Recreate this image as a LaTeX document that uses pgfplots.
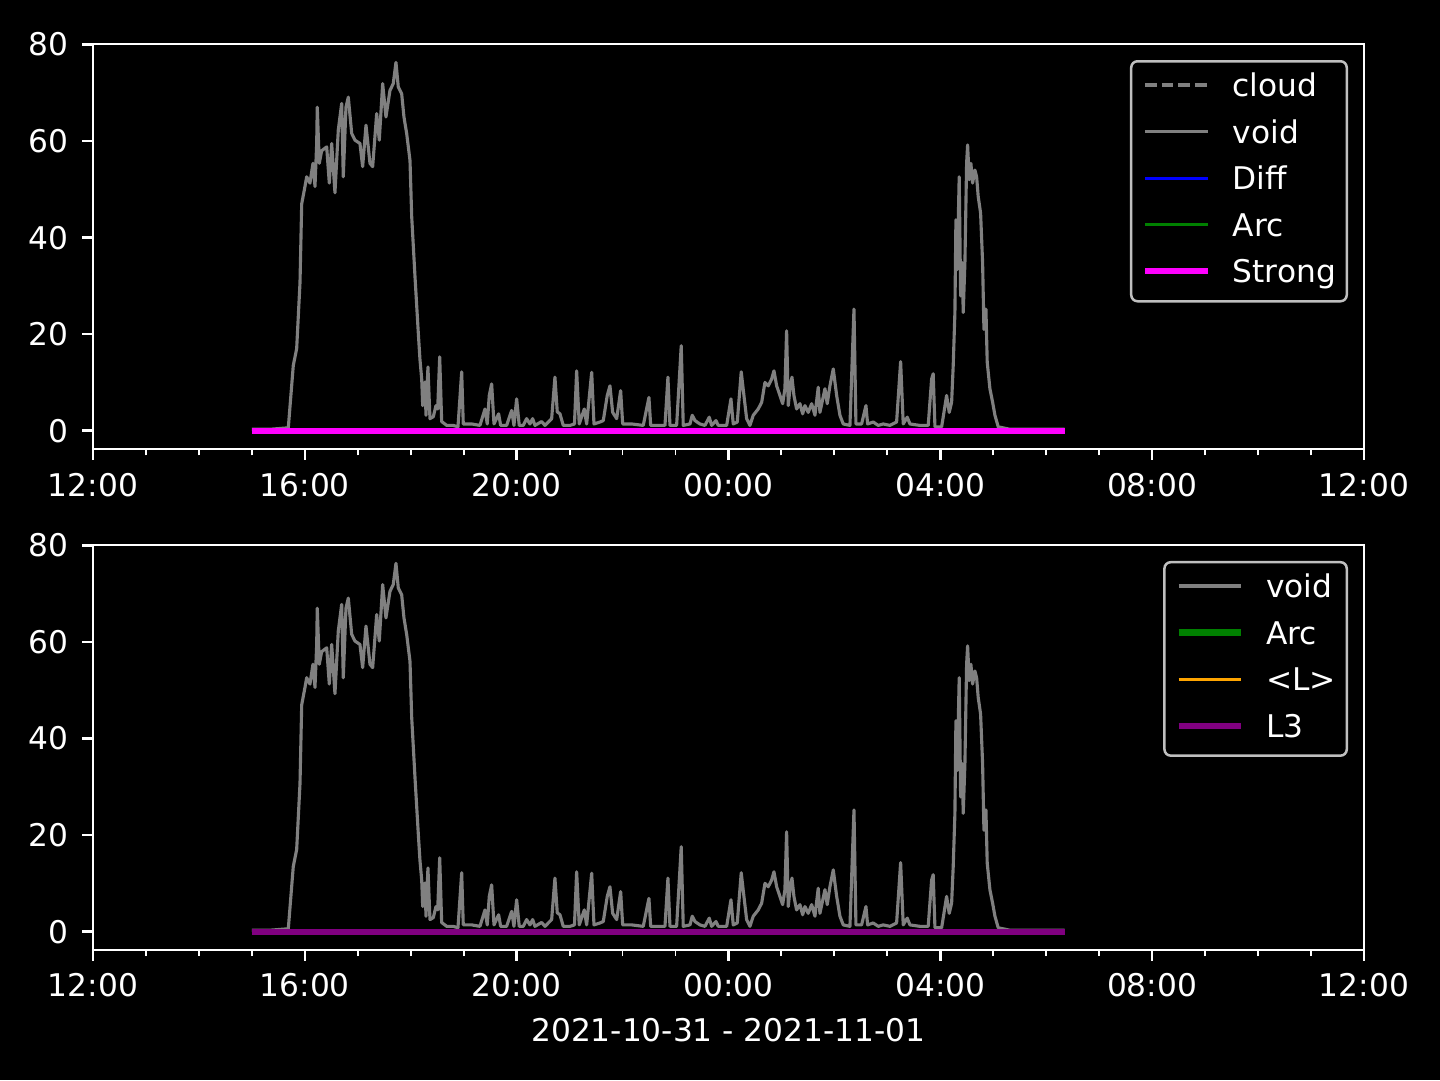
\documentclass[border=0pt]{standalone}
\usepackage{pgfplots}
\pgfplotsset{compat=1.18}
\usepackage{pgfplotstable}
\usepackage{fontspec}
\setmainfont{DejaVu Sans}
\definecolor{mgray}{HTML}{808080}
\definecolor{mgreen}{HTML}{008000}
\definecolor{mblue}{HTML}{0000FF}
\definecolor{mmagenta}{HTML}{FF00FF}
\definecolor{morange}{HTML}{FFA500}
\definecolor{mpurple}{HTML}{800080}
\definecolor{legedge}{gray}{0.75}

\pgfplotstableread{
x y
3.000 0.3
3.340 0.3
3.688 0.6
3.782 13.5
3.846 17.0
3.909 30.7
3.941 47.0
4.003 50.6
4.035 52.6
4.097 51.3
4.154 55.4
4.192 50.6
4.224 59.5
4.235 67.0
4.273 55.4
4.318 58.0
4.413 58.8
4.462 51.3
4.507 59.5
4.569 49.3
4.632 62.3
4.696 67.8
4.726 52.6
4.777 67.0
4.821 69.1
4.885 61.6
4.947 60.2
5.041 59.5
5.092 54.7
5.155 63.3
5.230 55.4
5.281 54.7
5.357 65.7
5.406 60.2
5.470 71.9
5.532 65.0
5.608 70.5
5.670 71.9
5.721 76.3
5.765 71.2
5.829 69.8
5.872 65.0
5.923 61.6
5.986 56.0
6.018 44.4
6.080 32.0
6.142 20.4
6.174 14.8
6.207 10.7
6.226 5.2
6.269 10.1
6.288 3.2
6.325 13.2
6.363 2.5
6.426 2.9
6.477 5.2
6.509 4.5
6.547 15.3
6.584 1.9
6.679 1.1
6.803 1.1
6.892 0.8
6.962 12.2
6.992 1.4
7.151 1.4
7.307 1.1
7.402 4.5
7.445 1.4
7.483 7.3
7.528 9.7
7.572 1.4
7.660 3.5
7.698 1.1
7.811 1.1
7.906 4.2
7.949 1.1
8.000 6.6
8.049 1.1
8.125 1.1
8.189 2.5
8.251 1.4
8.302 2.5
8.346 1.1
8.472 1.9
8.535 1.1
8.661 2.5
8.723 11.1
8.767 3.9
8.818 3.5
8.880 1.1
9.007 1.1
9.092 1.4
9.133 12.4
9.182 1.4
9.277 4.5
9.322 1.4
9.417 12.1
9.460 1.4
9.573 1.8
9.636 2.1
9.711 7.3
9.762 9.3
9.813 3.8
9.889 2.5
9.964 8.3
10.002 1.4
10.172 1.4
10.391 1.1
10.498 6.9
10.531 1.1
10.801 1.1
10.857 11.1
10.895 1.1
11.021 1.1
11.108 17.6
11.146 1.1
11.273 1.4
11.316 3.2
11.367 2.1
11.461 1.4
11.556 1.1
11.637 2.8
11.682 1.1
11.764 2.1
11.807 1.1
11.966 1.1
12.047 6.6
12.090 1.4
12.166 1.8
12.241 12.2
12.292 7.3
12.343 2.5
12.405 1.1
12.468 3.2
12.562 4.5
12.627 5.9
12.689 10.0
12.751 9.3
12.815 10.7
12.859 12.4
12.910 9.3
12.972 7.3
13.023 5.6
13.066 8.7
13.098 20.7
13.129 5.2
13.161 8.7
13.199 11.1
13.236 7.3
13.287 4.5
13.350 5.6
13.401 3.5
13.444 5.2
13.506 3.8
13.571 5.6
13.633 3.2
13.695 9.0
13.727 3.8
13.822 8.7
13.865 5.6
13.916 9.3
13.979 12.8
14.043 7.3
14.105 3.2
14.167 1.4
14.294 1.1
14.370 25.2
14.407 1.4
14.514 1.4
14.596 5.2
14.628 1.4
14.734 1.8
14.828 1.1
14.923 1.4
15.049 1.1
15.175 1.8
15.251 14.3
15.300 1.4
15.376 2.8
15.427 1.4
15.615 1.1
15.772 1.1
15.836 10.7
15.866 11.8
15.899 0.8
16.025 0.8
16.069 3.8
16.119 7.3
16.169 3.8
16.214 5.9
16.244 13.5
16.276 24.5
16.295 43.7
16.320 33.4
16.357 52.6
16.384 27.9
16.414 34.8
16.433 24.5
16.465 34.8
16.497 55.4
16.516 59.2
16.546 52.0
16.578 55.4
16.610 51.3
16.654 54.0
16.686 52.6
16.716 48.5
16.761 45.1
16.799 34.8
16.824 21.0
16.862 25.2
16.886 14.2
16.937 8.7
16.988 5.9
17.032 3.2
17.094 0.8
17.315 0.3
18.350 0.3
}\voiddata

\pgfplotstableread{
x y
3.000 0
18.350 0
}\zerodata

\pgfplotsset{
  darkax/.style={
    scale only axis, width=406.7pt, height=129.6pt,
    anchor=south west,
    xmin=0, xmax=24, ymin=-3.8, ymax=80.1,
    xtick={0,4,...,24},
    xticklabels={12:00,16:00,20:00,00:00,04:00,08:00,12:00},
    minor x tick num=3,
    ytick={0,20,...,80},
    tick align=outside, tick pos=left,
    major tick length=3.5pt, minor tick length=2pt,
    every tick/.style={white, line width=0.8pt},
    every minor tick/.style={white, line width=0.6pt},
    axis line style={white, line width=0.8pt},
    axis background/.style={fill=black},
    ticklabel style={white, font=\fontsize{10}{12}\selectfont},
    xticklabel style={anchor=center, inner sep=0pt, yshift=-7.9pt},
    yticklabel style={anchor=east, inner sep=0pt, xshift=-4.1pt},
    /pgf/number format/assume math mode=true,
    legend cell align=left,
    legend image code/.code={\draw[##1] (0pt,1.0pt) -- (20pt,1.0pt);},
    legend style={
      at={(rel axis cs:1,1)}, anchor=north east,
      xshift=-5.1pt, yshift=-5.1pt,
      fill=black, draw=legedge, line width=0.8pt, rounded corners=2pt,
      text=white, font=\fontsize{10}{12}\selectfont,
      inner xsep=3.5pt, inner ysep=3.7pt,
      row sep=5.1pt, column sep=7pt,
      nodes={inner sep=0pt, text height=7.6pt, text depth=2.2pt},
    },
  }
}

\begin{document}
\begin{tikzpicture}
\fill[black] (0,0) rectangle (460.8pt,345.6pt);
\begin{axis}[darkax, at={(29.76pt,201.9pt)}]
\addplot[mgray, line width=1pt, dash pattern=on 3.7pt off 1.6pt] table[x=x,y=y]{\zerodata};
\addlegendentry{cloud}
\addplot[mgray, line width=1pt, line join=round] table[x=x,y=y]{\voiddata};
\addlegendentry{void}
\addplot[mblue, line width=1pt] table[x=x,y=y]{\zerodata};
\addlegendentry{Diff}
\addplot[mgreen, line width=1pt] table[x=x,y=y]{\zerodata};
\addlegendentry{Arc}
\addplot[mmagenta, line width=2pt] table[x=x,y=y]{\zerodata};
\addlegendentry{Strong}
\end{axis}
\begin{axis}[darkax, at={(29.76pt,41.6pt)},
  xlabel={2021-10-31 - 2021-11-01},
  xlabel style={white, font=\fontsize{10}{12}\selectfont, at={(axis description cs:0.5,0)}, anchor=center, inner sep=0pt, yshift=-25.6pt}]
\addplot[mgray, line width=1pt, line join=round] table[x=x,y=y]{\voiddata};
\addlegendentry{void}
\addplot[mgreen, line width=2pt] table[x=x,y=y]{\zerodata};
\addlegendentry{Arc}
\addplot[morange, line width=1pt] table[x=x,y=y]{\zerodata};
\addlegendentry{<L>}
\addplot[mpurple, line width=2pt] table[x=x,y=y]{\zerodata};
\addlegendentry{L3}
\end{axis}
\end{tikzpicture}
\end{document}
